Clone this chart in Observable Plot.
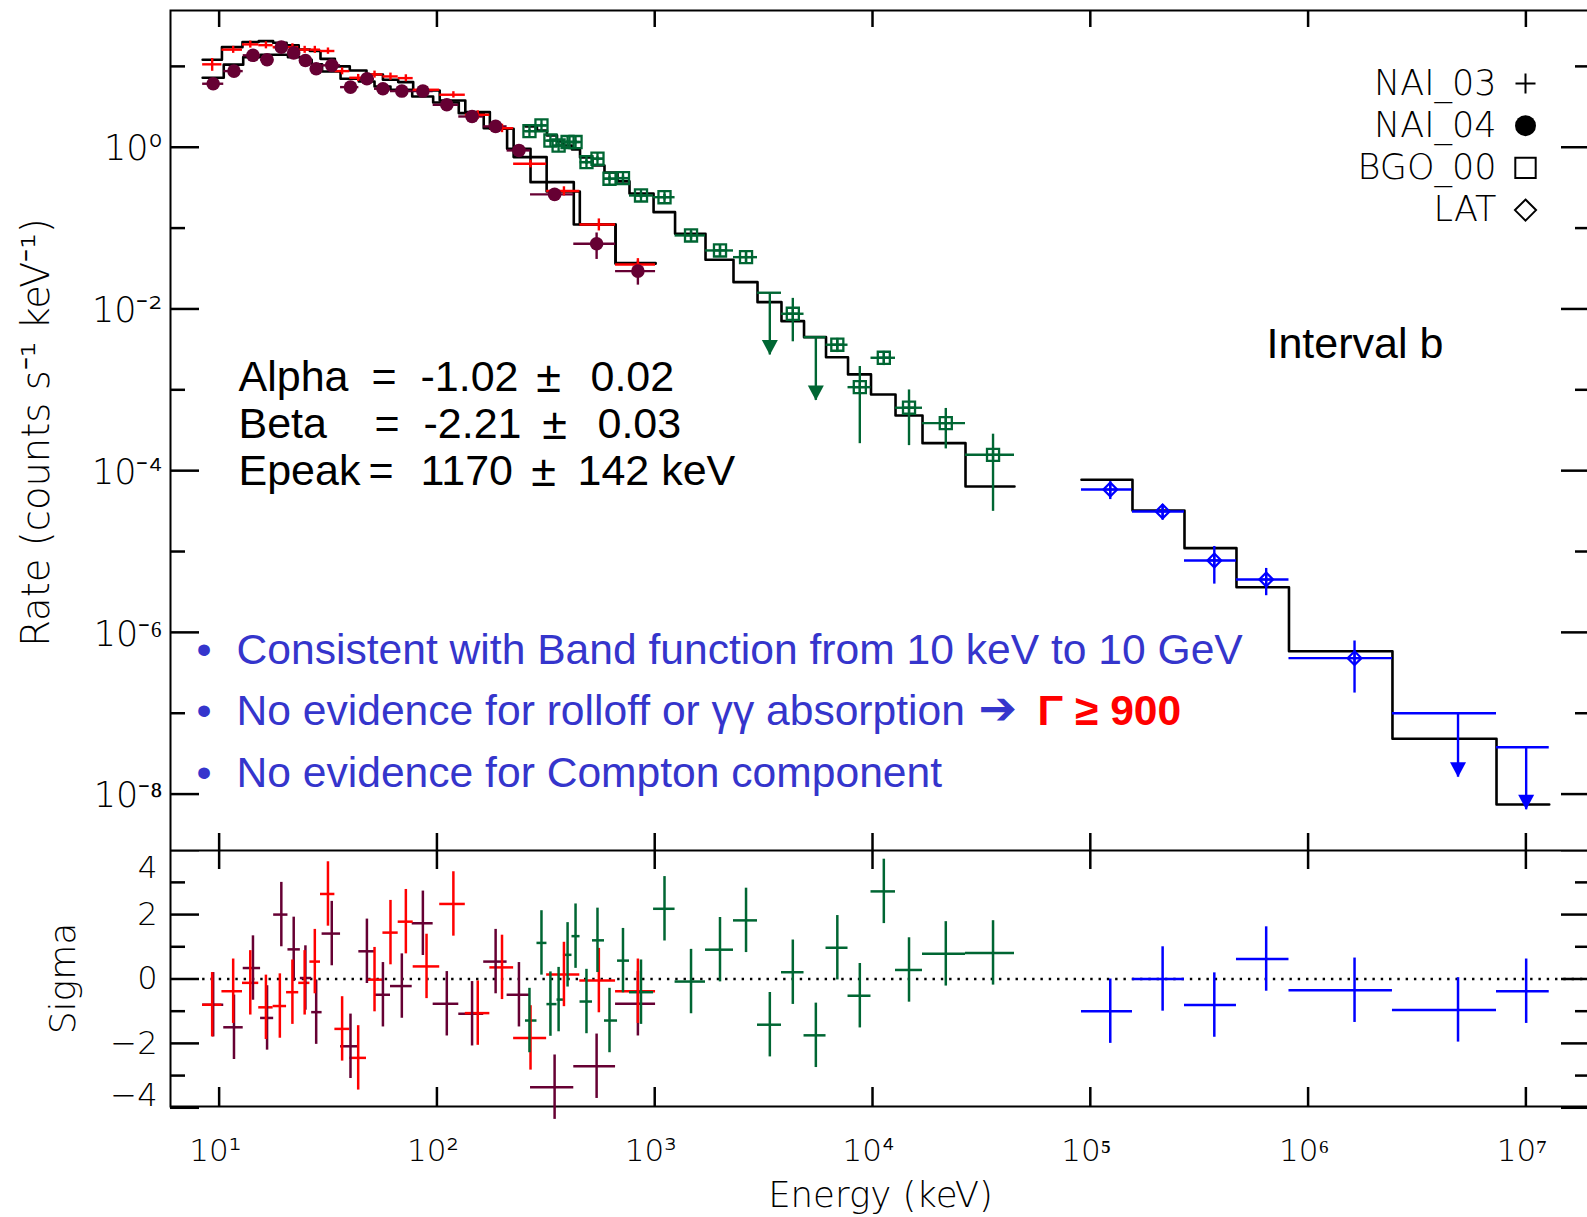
<!DOCTYPE html>
<html><head><meta charset="utf-8">
<script src="https://cdn.jsdelivr.net/npm/d3@7"></script>
<script src="https://cdn.jsdelivr.net/npm/@observablehq/plot@0.6"></script>
<style>
html,body{margin:0;padding:0;background:#fff;overflow:hidden;width:1587px;height:1217px;}
#wrap{position:relative;width:1587px;height:1217px;overflow:hidden;}
#top,#bot{position:absolute;left:0;width:1600px;}
#top{top:0}
#bot{top:850px}
#wrap svg{max-width:none !important;}
</style></head>
<body><div id="wrap"><div id="top"></div><div id="bot"></div></div>
<script>
// ================= DATA =================
// NAI_03 (red crosses)
const nai3Edges = [8.4, 10.3, 12.8, 15.2, 17.7, 20.4, 23.2, 26.1, 29.2, 34.0, 39.8, 47.5, 56.5, 66.4, 77.8, 103, 135, 175, 225, 319, 453, 661, 1009];
const nai3E     = [9.29, 11.6, 13.9, 16.4, 19.0, 21.7, 24.7, 27.5, 31.6, 36.7, 43.5, 51.7, 61.2, 72.0, 89.6, 119, 154, 199, 269, 383, 554, 837];
const nai3Rate  = [10.6, 16.1, 18.7, 18.3, 17.3, 17.3, 16.1, 16.1, 15.5, 8.74, 7.23, 7.95, 7.51, 7.16, 5.14, 4.46, 2.52, 1.72, 0.624, 0.287, 0.111, 0.0355];
const nai3Err   = [0.18, 0.1, 0.1, 0.1, 0.1, 0.1, 0.1, 0.1, 0.09, 0.1, 0.1, 0.1, 0.1, 0.1, 0.1, 0.09, 0.12, 0.12, 0.11, 0.13, 0.17, 0.18];
const nai3Model = [12.1, 17.3, 20.0, 20.5, 19.6, 18.2, 16.2, 15.5, 12.4, 9.99, 8.91, 7.95, 6.83, 6.39, 5.04, 3.79, 2.72, 1.69, 0.755, 0.284, 0.111, 0.0369];
const nai3Resid = [-0.80, -0.38, -0.12, -0.88, -0.84, -0.41, -0.12, 0.54, 2.64, -1.55, -2.45, -0.02, 1.44, 1.78, 0.39, 2.33, -1.06, 0.36, -1.83, 0.14, -0.05, -0.38];

// NAI_04 (filled circles)
const nai4Edges = [8.4, 10.5, 12.9, 15.5, 17.8, 20.7, 23.6, 26.6, 29.7, 36.1, 43.8, 51.7, 61.2, 77.0, 96.1, 126, 164, 210, 269, 425, 661, 1009];
const nai4E     = [9.39, 11.7, 14.3, 16.6, 19.3, 22.0, 24.9, 27.9, 32.9, 40.1, 47.7, 56.5, 69.0, 86.2, 111, 145, 186, 238, 347, 541, 837];
const nai4Rate  = [6.10, 8.74, 13.7, 12.1, 17.3, 14.7, 11.8, 9.34, 10.3, 5.54, 7.03, 5.29, 4.95, 4.95, 3.35, 2.40, 1.81, 0.913, 0.261, 0.0640, 0.0294];
const nai4Err   = [0.08, 0.06, 0.05, 0.05, 0.05, 0.05, 0.05, 0.05, 0.05, 0.05, 0.05, 0.05, 0.05, 0.05, 0.06, 0.07, 0.07, 0.08, 0.1, 0.36, 0.33];
const nai4Model = [7.23, 10.5, 13.0, 13.9, 13.9, 13.0, 12.1, 10.6, 8.66, 7.03, 6.51, 5.65, 5.14, 4.25, 3.58, 2.64, 1.72, 0.957, 0.370, 0.111, 0.0362];
const nai4Resid = [-0.80, -1.50, 0.34, -1.21, 2.00, 0.92, 0.03, -1.03, 1.41, -2.09, 0.86, -0.49, -0.22, 1.73, -0.77, -1.08, 0.54, -0.49, -3.36, -2.71, -0.77];

// BGO_00 (open squares)
const bgoEdges = [255, 288, 320, 356, 381, 417, 454, 518, 588, 675, 766, 988, 1240, 1711, 2300, 2965, 3820, 4848, 6117, 7719, 9842, 12755, 16966, 26730, 44870];
const bgoE     = [266, 302, 332, 362, 398, 433, 486, 546, 620, 715, 865, 1109, 1468, 1994, 2626, 3377, 4306, 5493, 6893, 8744, 11270, 14710, 21700, 35760];
const bgoRate  = [1.58, 1.86, 1.21, 1.05, 1.16, 1.16, 0.654, 0.721, 0.408, 0.415, 0.253, 0.241, 0.0811, 0.0529, 0.0437, 0.01586, 0.00872, 0.00448, 0.00361, 0.001078, 0.00249, 0.0006, 0.000387, 0.000157];
const bgoErr   = [0.04, 0.04, 0.04, 0.05, 0.05, 0.05, 0.06, 0.06, 0.07, 0.07, 0.08, 0.08, 0.12, 0.15, 0.15, null, 0.55, null, 0.2, 0.8, 0.2, 0.66, 0.52, 0.8];
const bgoLimit = [null, null, null, null, null, null, null, null, null, null, null, null, null, null, null, 0.0027, null, 0.00074, null, null, null, null, null, null];
const bgoModel = [1.81, 1.61, 1.40, 1.18, 1.05, 0.939, 0.748, 0.595, 0.488, 0.378, 0.268, 0.1575, 0.0851, 0.0406, 0.02146, 0.01214, 0.00706, 0.00448, 0.00253, 0.00155, 0.000876, 0.000482, 0.000219, 0.0000638];
const bgoResid = [-1.29, 1.12, -0.78, -0.64, 0.75, 1.33, -0.70, 1.20, -1.29, 0.57, -0.41, 2.18, -0.08, 0.91, 1.82, -1.42, 0.21, -1.75, 0.97, -0.52, 2.72, 0.28, 0.78, 0.81];

// LAT (open diamonds)
const latEdges = [9.11e4, 1.562e5, 2.707e5, 4.69e5, 8.17e5, 2.44e6, 7.33e6, 1.28e7];
const latE     = [1.235e5, 2.148e5, 3.71e5, 6.42e5, 1.634e6, 4.88e6, 1.003e7];
const latRate  = [5.85e-5, 3.13e-5, 7.75e-6, 4.51e-6, 4.80e-7, 1.0e-7, 3.8e-8];
const latErr   = [0.25, 0.22, 0.49, 0.37, 0.63, null, null];
const latLimit = [null, null, null, null, null, 1.62e-8, 6.4e-9];
const latModel = [7.72e-5, 3.22e-5, 1.10e-5, 3.62e-6, 5.85e-7, 4.83e-8, 7.43e-9];
const latResid = [-1.0, 0.0, -0.81, 0.62, -0.35, -0.96, -0.38];

// Axes
const xTicks = [1e1, 1e2, 1e3, 1e4, 1e5, 1e6, 1e7];
const yMajor = [1, 1e-2, 1e-4, 1e-6, 1e-8];
const yMinor = [10, 1e-1, 1e-3, 1e-5, 1e-7];
const sMajor = [-4, -2, 0, 2, 4];
const sMinor = [-3, -1, 1, 3];
const legendNames = ["NAI_03", "NAI_04", "BGO_00", "LAT"];

// ================= BUILD =================
const COL = {nai3: "#ff0000", nai4: "#660033", bgo: "#006633", lat: "#0000ff"};
const TXT = "#3535cc";
function build(det, edges, E, rate, err, model, resid, limit) {
  return E.map((e, i) => ({
    det, lo: edges[i], hi: edges[i + 1], E: e, rate: rate[i],
    rLo: err[i] == null ? null : rate[i] * (1 - err[i]),
    rHi: err[i] == null ? null : rate[i] * (1 + err[i]),
    model: model[i], resid: resid[i],
    limit: limit ? limit[i] : null, color: COL[det]
  }));
}
const nai3 = build("nai3", nai3Edges, nai3E, nai3Rate, nai3Err, nai3Model, nai3Resid);
const nai4 = build("nai4", nai4Edges, nai4E, nai4Rate, nai4Err, nai4Model, nai4Resid);
const bgo = build("bgo", bgoEdges, bgoE, bgoRate, bgoErr, bgoModel, bgoResid, bgoLimit);
const lat = build("lat", latEdges, latE, latRate, latErr, latModel, latResid, latLimit);
const all = [...nai4, ...nai3, ...bgo, ...lat];
const steps = all.flatMap(d => [{det: d.det, x: d.lo, y: d.model}, {det: d.det, x: d.hi, y: d.model}]);
const withErr = all.filter(d => d.rLo != null);
const limits = all.filter(d => d.limit != null);
const pts = all.filter(d => d.limit == null);

const W = 1600, FL = 170, FR = 1590, FT = 10;
const PW = FR - FL, PH1 = 850 - FT, PH2 = 256;
const xDomain = [5.98, 1.98e7];
const AX = "DejaVu Sans";
const AR = "Liberation Sans, Arial, sans-serif";
const SUP = {"-": "\u207B", "0": "\u2070", "1": "\u00B9", "2": "\u00B2", "3": "\u00B3", "4": "\u2074", "5": "\u2075", "6": "\u2076", "7": "\u2077", "8": "\u2078", "9": "\u2079"};
const pow10 = d => "10" + String(Math.round(Math.log10(d))).split("").map(c => SUP[c]).join("");

const arrowHead = {draw(ctx) { ctx.moveTo(-8, -15); ctx.lineTo(8, -15); ctx.lineTo(0, 0); ctx.closePath(); }};

function note(text, X, Y, o = {}) {
  return Plot.text([text], {text: d => d, frameAnchor: "top-left", dx: X - FL, dy: Y - FT,
    textAnchor: "start", lineAnchor: "middle", fontFamily: AR, fontSize: 43, fill: "black", ...o});
}
const PM = {textAnchor: "middle", fontSize: 45};
const svgStyle = {maxWidth: "none", fontFamily: AX};

// ================= TOP PANEL =================
const topPlot = Plot.plot({
  width: W, height: 850,
  marginLeft: FL, marginRight: W - FR, marginTop: FT, marginBottom: 0,
  x: {type: "log", domain: xDomain, axis: null},
  y: {type: "log", domain: [2.006e-9, 49.1], axis: null},
  color: {type: "identity"},
  style: {...svgStyle, background: "white"},
  marks: [
    // ticks
    Plot.ruleX(xTicks, {insetBottom: PH1 - 17, stroke: "black", strokeWidth: 2.5}),
    Plot.ruleX(xTicks, {insetTop: PH1 - 17, stroke: "black", strokeWidth: 2.5}),
    Plot.ruleY(yMajor, {insetRight: PW - 29, stroke: "black", strokeWidth: 2.5}),
    Plot.ruleY(yMinor, {insetRight: PW - 15, stroke: "black", strokeWidth: 2.5}),
    Plot.ruleY(yMajor, {insetLeft: PW - 29, stroke: "black", strokeWidth: 2.5}),
    Plot.ruleY(yMinor, {insetLeft: PW - 15, stroke: "black", strokeWidth: 2.5}),
    Plot.frame({stroke: "black", strokeWidth: 2}),
    Plot.text(yMajor, {y: d => d, text: pow10, frameAnchor: "left", textAnchor: "end", dx: -8, dy: 2,
      fontSize: 35, fontWeight: 200, fill: "black"}),
    Plot.text(["Rate (counts s\u207B\u00B9 keV\u207B\u00B9)"], {text: d => d, frameAnchor: "left", textAnchor: "middle", rotate: -90,
      dx: 36 - FL, dy: 2, fontSize: 38.5, fontWeight: 200, fill: "black"}),
    // model steps
    Plot.line(steps, {x: "x", y: "y", z: "det", stroke: "black", strokeWidth: 2.6}),
    // error bars
    Plot.ruleY(all, {y: "rate", x1: "lo", x2: "hi", stroke: "color", strokeWidth: 2.4}),
    Plot.ruleX(withErr, {x: "E", y1: "rLo", y2: "rHi", stroke: "color", strokeWidth: 2.4}),
    // upper limits
    Plot.ruleX(limits, {x: "E", y1: "rate", y2: "limit", stroke: "color", strokeWidth: 2.4}),
    Plot.dot(limits, {x: "E", y: "limit", symbol: arrowHead, fill: "color", stroke: "none"}),
    // markers
    Plot.dot(pts.filter(d => d.det === "nai4"), {x: "E", y: "rate", r: 6.8, fill: "color", stroke: "none"}),
    Plot.dot(pts.filter(d => d.det === "bgo"), {x: "E", y: "rate", symbol: "square", r: 6.8, fill: "none", stroke: "color", strokeWidth: 2.3}),
    Plot.dot(pts.filter(d => d.det === "bgo"), {x: "E", y: "rate", symbol: "plus", r: 3.8, fill: "none", stroke: "color", strokeWidth: 2.3}),
    Plot.dot(pts.filter(d => d.det === "lat"), {x: "E", y: "rate", symbol: "diamond2", r: 6.2, fill: "none", stroke: "color", strokeWidth: 2.2}),
    Plot.dot(pts.filter(d => d.det === "lat"), {x: "E", y: "rate", symbol: "plus", r: 4, fill: "none", stroke: "color", strokeWidth: 2.2}),
    // legend
    ...legendNames.map((n, i) => Plot.text([n], {text: d => d, frameAnchor: "top-left", dx: 1496 - FL, dy: 83 - FT + i * 42.2,
      textAnchor: "end", lineAnchor: "middle", fontSize: 35, fontWeight: 200, fill: "black"})),
    Plot.dot([0], {frameAnchor: "top-left", dx: 1525 - FL, dy: 83 - FT, symbol: "plus", r: 6.5, stroke: "black", strokeWidth: 2, fill: "none"}),
    Plot.dot([0], {frameAnchor: "top-left", dx: 1525 - FL, dy: 125.2 - FT, r: 10.5, fill: "black", stroke: "none"}),
    Plot.dot([0], {frameAnchor: "top-left", dx: 1525 - FL, dy: 167.4 - FT, symbol: "square", r: 11.5, stroke: "black", strokeWidth: 2, fill: "none"}),
    Plot.dot([0], {frameAnchor: "top-left", dx: 1525 - FL, dy: 209.6 - FT, symbol: "diamond2", r: 9.5, stroke: "black", strokeWidth: 2, fill: "none"}),
    // annotations
    note("Interval b", 1266, 344),
    note("Alpha", 238, 377), note("=", 371, 377), note("-1.02", 420, 377), note("\u00B1", 548, 377, PM), note("0.02", 590, 377),
    note("Beta", 238, 424), note("=", 374, 424), note("-2.21", 423, 424), note("\u00B1", 554, 424, PM), note("0.03", 597, 424),
    note("Epeak", 238, 471), note("=", 368, 471), note("1170", 420, 471), note("\u00B1", 543, 471, PM), note("142 keV", 577, 471),
    note("\u2022", 196, 650, {fill: TXT}), note("Consistent with Band function from 10 keV to 10 GeV", 236, 650, {fill: TXT, fontSize: 42.6}),
    note("\u2022", 196, 711, {fill: TXT}), note("No evidence for rolloff or \u03B3\u03B3 absorption", 236, 711, {fill: TXT, fontSize: 42.6}),
    note("\u2794", 978, 709, {fill: TXT, fontFamily: "DejaVu Sans", fontSize: 46}),
    note("\u0393 \u2265 900", 1037, 711, {fill: "#ff0000", fontWeight: "bold", fontSize: 42.6}),
    note("\u2022", 196, 773, {fill: TXT}), note("No evidence for Compton component", 236, 773, {fill: TXT, fontSize: 42.6})
  ]
});
document.getElementById("top").appendChild(topPlot);

// ================= RESIDUAL PANEL =================
const sEdgeTop = sMajor.filter(d => d === 4);
const sEdgeBot = sMajor.filter(d => d === -4);
const sInner = sMajor.filter(d => Math.abs(d) < 4);
const sLabel = d => d < 0 ? "\u2212" + (-d) : String(d);
const sOpts = {y: d => d, text: sLabel, frameAnchor: "left", textAnchor: "end", dx: -13, fontSize: 32, fontWeight: 200, fill: "black"};
const botPlot = Plot.plot({
  width: W, height: 367,
  marginLeft: FL, marginRight: W - FR, marginTop: 0, marginBottom: 367 - PH2,
  x: {type: "log", domain: xDomain, axis: null},
  y: {domain: [-3.96, 3.99], axis: null},
  color: {type: "identity"},
  style: {...svgStyle, background: "transparent"},
  marks: [
    Plot.ruleX(xTicks, {insetBottom: PH2 - 19, stroke: "black", strokeWidth: 2.5}),
    Plot.ruleX(xTicks, {insetTop: PH2 - 19, stroke: "black", strokeWidth: 2.5}),
    Plot.ruleY(sMajor, {insetRight: PW - 29, stroke: "black", strokeWidth: 2.5}),
    Plot.ruleY(sMinor, {insetRight: PW - 15, stroke: "black", strokeWidth: 2.5}),
    Plot.ruleY(sMajor, {insetLeft: PW - 29, stroke: "black", strokeWidth: 2.5}),
    Plot.ruleY(sMinor, {insetLeft: PW - 15, stroke: "black", strokeWidth: 2.5}),
    Plot.frame({stroke: "black", strokeWidth: 2}),
    Plot.ruleY([0], {x1: nai3Edges[0], x2: xDomain[1], stroke: "black", strokeWidth: 2.4, strokeDasharray: "2.4,5.9"}),
    // residual crosses
    Plot.ruleY(all, {y: "resid", x1: "lo", x2: "hi", stroke: "color", strokeWidth: 2.5}),
    Plot.ruleX(all, {x: "E", y1: d => d.resid - 1, y2: d => d.resid + 1, stroke: "color", strokeWidth: 2.5}),
    // labels
    Plot.text(sInner, sOpts),
    Plot.text(sEdgeTop, {...sOpts, dy: 18, fontSize: 31}),
    Plot.text(sEdgeBot, {...sOpts, dy: -12}),
    Plot.text(["Sigma"], {text: d => d, frameAnchor: "left", textAnchor: "middle", rotate: -90, dx: 63 - FL, fontSize: 36, fontWeight: 200, fill: "black"}),
    Plot.text(xTicks, {x: d => d, text: pow10, frameAnchor: "bottom", dy: 45, dx: -4, lineAnchor: "middle",
      fontSize: 31, fontWeight: 200, fill: "black"}),
    Plot.text(["Energy (keV)"], {text: d => d, frameAnchor: "bottom", dy: 89, lineAnchor: "middle",
      fontSize: 35.5, fontWeight: 200, fill: "black"})
  ]
});
document.getElementById("bot").appendChild(botPlot);
</script>
</body></html>
